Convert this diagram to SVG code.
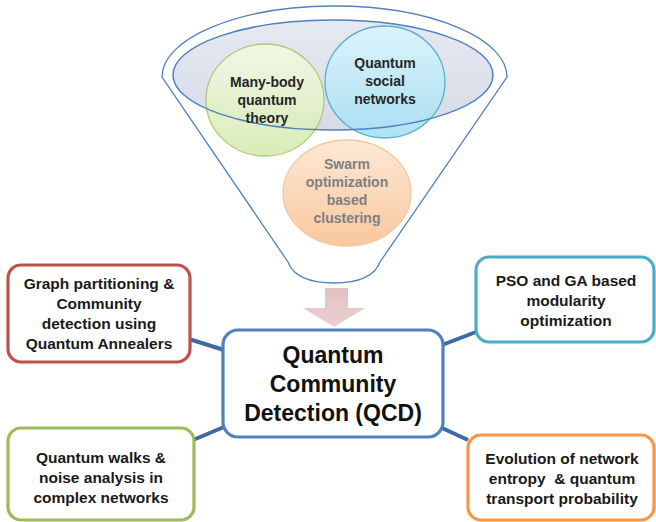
<svg xmlns="http://www.w3.org/2000/svg" width="656" height="522" viewBox="0 0 656 522">
<defs>
<linearGradient id="gGreen" x1="0" y1="0" x2="0" y2="1"><stop offset="0" stop-color="#f3f9e6"/><stop offset="1" stop-color="#d6ebb2"/></linearGradient>
<linearGradient id="gBlue" x1="0" y1="0" x2="0" y2="1"><stop offset="0" stop-color="#dcf4fc"/><stop offset="1" stop-color="#a6e0f4"/></linearGradient>
<linearGradient id="gOrange" x1="0" y1="0" x2="0" y2="1"><stop offset="0" stop-color="#fde8d6"/><stop offset="1" stop-color="#f9c89e"/></linearGradient>
<linearGradient id="gTop" x1="0" y1="0" x2="0" y2="1"><stop offset="0" stop-color="#e6e9f1"/><stop offset="1" stop-color="#d6dbe7"/></linearGradient>
<linearGradient id="gArrow" x1="0" y1="0" x2="0" y2="1"><stop offset="0" stop-color="#e3c1c3"/><stop offset="1" stop-color="#eccfd0"/></linearGradient>
<style>
.funnel{fill:#fff;stroke:#4f81bd;stroke-width:1.3}
.ring{fill:none;stroke:#4f81bd;stroke-width:1.5}
.ct{font-family:"Liberation Sans",Arial,sans-serif;font-weight:bold;font-size:14px;fill:#262626;text-anchor:middle}
.box{fill:#fff;stroke-width:3.2}
.bt{font-family:"Liberation Sans",Arial,sans-serif;font-weight:bold;font-size:15.5px;fill:#1a1a1a;text-anchor:middle}
.mt{font-family:"Liberation Sans",Arial,sans-serif;font-weight:bold;font-size:23px;fill:#111;text-anchor:middle}
.conn{stroke:#3d6aa5;stroke-width:4;fill:none}
</style>
</defs>
<rect width="656" height="522" fill="#fff"/>
<g id="funnel">
<path class="funnel" d="M162,77 A172.5,71 0 0 1 507,77 L380,262 Q372,283 334,283 Q296,283 288,262 Z"/>
<ellipse cx="333" cy="75" rx="160" ry="55" fill="url(#gTop)"/>
</g>
<g id="many-body">
<ellipse cx="265" cy="100" rx="59" ry="56" fill="url(#gGreen)" stroke="#a9c96b" stroke-width="1.3" opacity="0.92"/>
</g>
<g id="social">
<ellipse cx="385" cy="82" rx="60" ry="56" fill="url(#gBlue)" stroke="#4bacc6" stroke-width="1.3" opacity="0.92"/>
</g>
<g id="swarm">
<ellipse cx="347" cy="193" rx="64" ry="53" fill="url(#gOrange)" stroke="#f6c79f" stroke-width="1.3"/>
<text class="ct" fill="#7f7f7f" style="fill:#7f7f7f"><tspan x="347" y="169">Swarm</tspan><tspan x="347" y="187">optimization</tspan><tspan x="347" y="205">based</tspan><tspan x="347" y="223">clustering</tspan></text>
</g>
<ellipse class="ring" cx="333" cy="75" rx="160" ry="55"/>
<text class="ct"><tspan x="267" y="87">Many-body</tspan><tspan x="267" y="105">quantum</tspan><tspan x="267" y="123">theory</tspan></text>
<text class="ct"><tspan x="385" y="68">Quantum</tspan><tspan x="385" y="86">social</tspan><tspan x="385" y="104">networks</tspan></text>
<g id="arrow">
<polygon points="325,288 348,288 348,308 365,308 334,327 303,308 325,308" fill="url(#gArrow)"/>
</g>
<g id="connectors">
<line class="conn" x1="189" y1="339" x2="224" y2="350"/>
<line class="conn" x1="193" y1="440" x2="224" y2="427"/>
<line class="conn" x1="442" y1="345" x2="476" y2="332"/>
<line class="conn" x1="442" y1="428" x2="468" y2="440"/>
</g>
<g id="qcd">
<rect class="box" x="223" y="330" width="220" height="107" rx="15" stroke="#4f81bd" stroke-width="3.6"/>
<text class="mt"><tspan x="333" y="363">Quantum</tspan><tspan x="333" y="392">Community</tspan><tspan x="333" y="421">Detection (QCD)</tspan></text>
</g>
<g id="graph-partitioning">
<rect class="box" x="8" y="265" width="182" height="97" rx="13" stroke="#c0504d"/>
<text class="bt"><tspan x="99" y="288.5">Graph partitioning &amp;</tspan><tspan x="99" y="308.5">Community</tspan><tspan x="99" y="328.5">detection using</tspan><tspan x="99" y="348.5">Quantum Annealers</tspan></text>
</g>
<g id="quantum-walks">
<rect class="box" x="8" y="428" width="186" height="92" rx="13" stroke="#9bbb59"/>
<text class="bt"><tspan x="101" y="462.5">Quantum walks &amp;</tspan><tspan x="101" y="482.5">noise analysis in</tspan><tspan x="101" y="502.5">complex networks</tspan></text>
</g>
<g id="pso-ga">
<rect class="box" x="476" y="257" width="178" height="85" rx="13" stroke="#4bacc6"/>
<text class="bt"><tspan x="566" y="285.5">PSO and GA based</tspan><tspan x="566" y="305.5">modularity</tspan><tspan x="566" y="325.5">optimization</tspan></text>
</g>
<g id="evolution">
<rect class="box" x="468" y="435" width="186" height="85" rx="13" stroke="#f79646"/>
<text class="bt" xml:space="preserve"><tspan x="562" y="463.5">Evolution of network</tspan><tspan x="562" y="483.5">entropy  &amp; quantum</tspan><tspan x="562" y="503.5">transport probability</tspan></text>
</g>
</svg>
